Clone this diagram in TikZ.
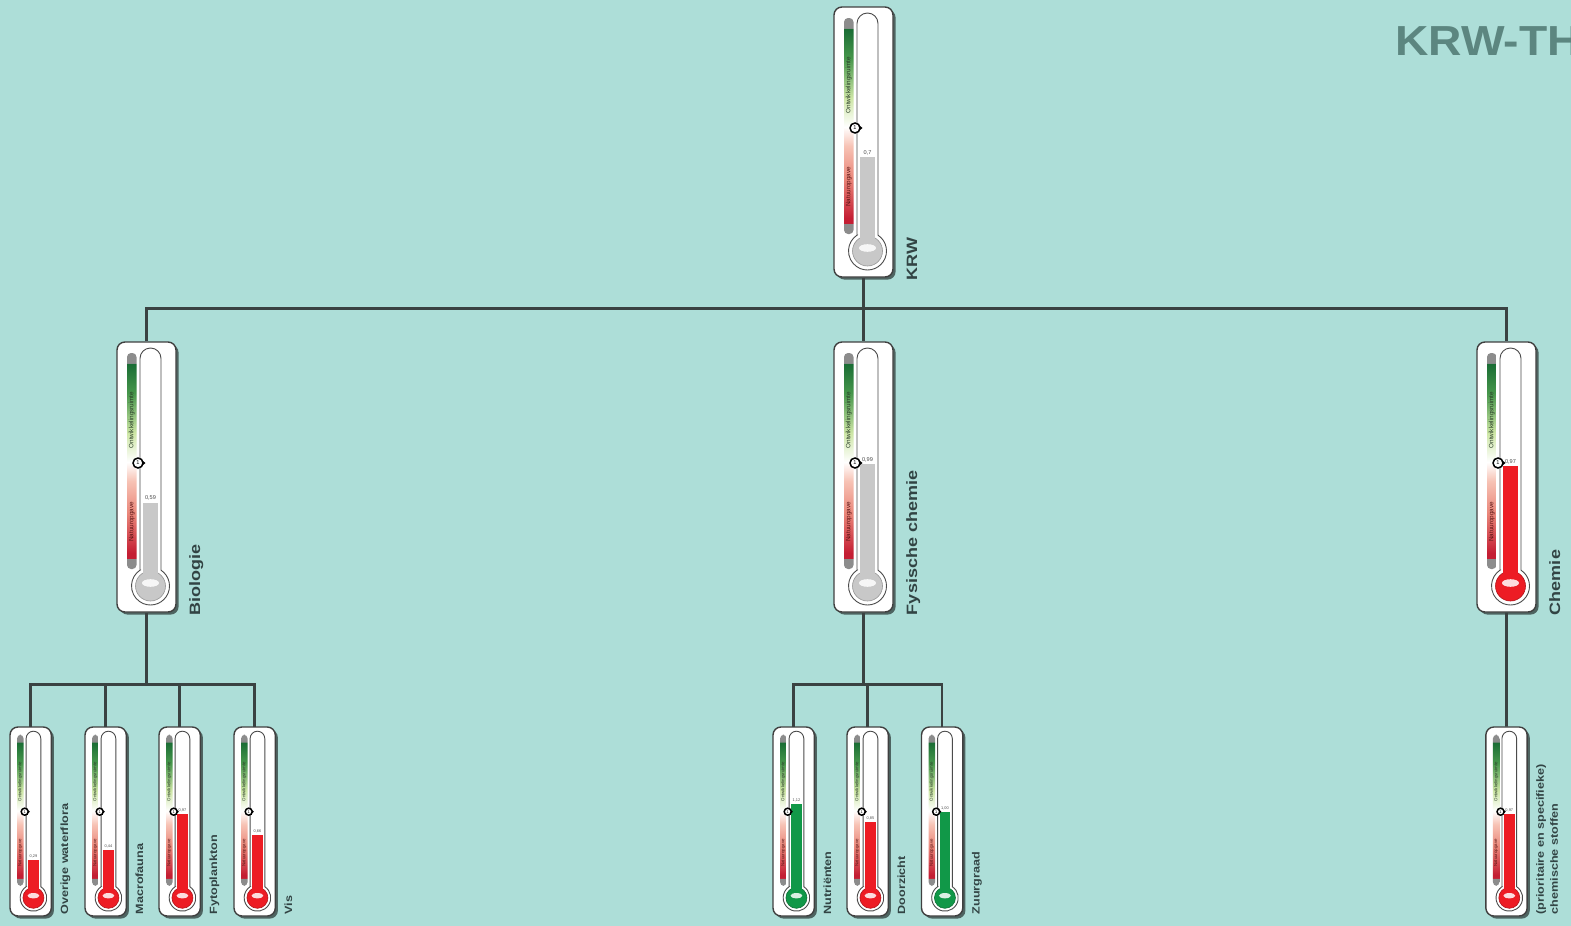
\documentclass[tikz,border=0pt]{standalone}
\usepackage{fontspec}
\setmainfont{Liberation Sans}
\newfontfamily\lblfont[FakeStretch=1.2]{Liberation Sans}
\newfontfamily\titlefont[FakeStretch=1.1]{Liberation Sans}
\usetikzlibrary{shadows}

\definecolor{bgteal}{RGB}{173,222,216}
\definecolor{linegray}{RGB}{58,66,66}
\definecolor{lblgray}{RGB}{50,68,68}
\definecolor{titlegray}{RGB}{92,134,128}
\definecolor{fluidgray}{RGB}{200,200,200}
\definecolor{fluidred}{RGB}{237,28,36}
\definecolor{fluidgreen}{RGB}{17,152,72}
\definecolor{capgray}{RGB}{140,140,140}
\definecolor{sgdark}{RGB}{25,108,52}
\definecolor{sgreen}{RGB}{70,150,75}
\definecolor{slight}{RGB}{205,230,165}
\definecolor{spink}{RGB}{247,195,181}
\definecolor{ssalmon}{RGB}{234,135,122}
\definecolor{sred}{RGB}{196,30,51}
\definecolor{sgtext}{RGB}{40,60,40}
\definecolor{srtext}{RGB}{90,20,20}

\pgfdeclareverticalshading{krwscale}{100bp}{color(0bp)=(capgray); color(27.43bp)=(capgray);
  color(27.55bp)=(sred); color(28.7bp)=(sred); color(37.96bp)=(ssalmon); color(45.37bp)=(spink);
  color(49.77bp)=(white); color(56.48bp)=(slight); color(65.74bp)=(sgreen); color(72.57bp)=(sgdark);
  color(72.69bp)=(capgray); color(100bp)=(capgray)}

\tikzset{
  card/.style={draw=black!75,fill=white,line width=.7pt,rounded corners=4pt,
    minimum width=29.5pt,minimum height=135pt,inner sep=0,
    drop shadow={shadow xshift=1.3pt,shadow yshift=-1.3pt,opacity=.55,fill=black}},
  tube/.style={draw=black!70,fill=white,line width=.45pt},
  scaletxt/.style={rotate=90,inner sep=0,font=\fontsize{3.15}{3.5}\selectfont},
  valtxt/.style={inner sep=0,text=black!70,font=\fontsize{2.8}{3}\selectfont},
  marktxt/.style={inner sep=0,font=\fontsize{2.8}{3}\selectfont},
  lbl/.style={rotate=90,anchor=base west,inner sep=0,text=lblgray,
    font=\lblfont\fontsize{7.5}{10}\selectfont\bfseries},
  link/.style={draw=linegray,line width=1.3pt}
}

% #1 name, #2 x, #3 y, #4 scale, #5 value, #6 fluid colour, #7 value text, #8 label
\newcommand{\thermo}[8]{%
  \begin{scope}[shift={(#2,-#3)},scale=#4,transform shape]
    \node[card] (#1) at (29.5,-135) {};
    \shade[shading=krwscale,rounded corners=2pt] (10,-11) rectangle (19.5,-227);
    \node[scaletxt,text=sgtext] (#1-up) at (14.75,-78) {Ontwikkelingsruimte};
    \node[scaletxt,text=srtext] (#1-down) at (14.75,-180) {Natuuropgave};
    \draw[tube] (23,-228.16) -- (23,-16.5) arc[start angle=180,end angle=0,radius=10.5]
      -- (44,-228.16) arc[start angle=56.46,end angle=-236.46,radius=19] -- cycle;
    \filldraw[fill=#6,draw=#6!75!black,line width=.3pt] (33.5,-244) circle (15);
    \fill[#6] (26,{-218+97*#5}) rectangle (41,-236);
    \fill[white,opacity=.85] (33.5,-241) ellipse (8.5 and 3.8);
    \node[valtxt] (#1-val) at (33.5,{-218+97*#5+4.5}) {#7};
    \fill[black] (24.5,-117.8) -- (28.5,-121) -- (24.5,-124.2) -- cycle;
    \draw[fill=white,line width=.75pt] (21,-121) circle (5);
    \node[marktxt] (#1-mark) at (21,-121) {1};
    \node[lbl] (#1-lbl) at (83,{-268-(#4-0.7)*18}) {#8};
  \end{scope}}

\begin{document}
\begin{tikzpicture}[x=0.5pt,y=0.5pt]
  \useasboundingbox (0,0) rectangle (1571,-926);
  \clip (0,0) rectangle (1571,-926);
  \fill[bgteal] (0,0) rectangle (1571,-926);

  \node[anchor=base west,inner sep=0,text=titlegray,font=\titlefont\fontsize{21}{24}\selectfont\bfseries]
    (title) at (1395,-55) {KRW-TH};

  % top
  \thermo{krw}{834}{7}{1}{0.7}{fluidgray}{0,7}{KRW}
  % middle row
  \thermo{bio}{117}{342}{1}{0.59}{fluidgray}{0,59}{Biologie}
  \thermo{fys}{834}{342}{1}{0.99}{fluidgray}{0,99}{Fysische chemie}
  \thermo{chem}{1477}{342}{1}{0.97}{fluidred}{0,97}{Chemie}
  % bottom row
  \thermo{flora}{10}{727}{0.7}{0.29}{fluidred}{0,29}{Overige waterflora}
  \thermo{fauna}{85}{727}{0.7}{0.44}{fluidred}{0,44}{Macrofauna}
  \thermo{fyto}{159}{727}{0.7}{0.97}{fluidred}{0,97}{Fytoplankton}
  \thermo{vis}{234}{727}{0.7}{0.66}{fluidred}{0,66}{Vis}
  \thermo{nutr}{773}{727}{0.7}{1.12}{fluidgreen}{1,12}{Nutriënten}
  \thermo{door}{847}{727}{0.7}{0.85}{fluidred}{0,85}{Doorzicht}
  \thermo{zuur}{921.5}{727}{0.7}{1.00}{fluidgreen}{1,00}{Zuurgraad}
  \thermo{stof}{1485.85}{727}{0.7}{0.97}{fluidred}{0,97}{\begin{tabular}[t]{@{}l@{}}(prioritaire en specifieke)\\chemische stoffen\end{tabular}}

  % connectors
  \draw[link] (krw.south) -- ++(0,-31) coordinate (tophub);
  \draw[link] (bio.north) |- (tophub) -| (chem.north);
  \draw[link] (tophub) -- (fys.north);
  \draw[link] (bio.south) -- ++(0,-72) coordinate (biohub);
  \draw[link] (flora.north) |- (biohub) -| (vis.north);
  \draw[link] (fauna.north) |- (biohub);
  \draw[link] (fyto.north) |- (biohub);
  \draw[link] (fys.south) -- ++(0,-72) coordinate (fyshub);
  \draw[link] (nutr.north) |- (fyshub) -| (zuur.north);
  \draw[link] (door.north) |- (fyshub);
  \draw[link] (chem.south) -- (stof.north);
\end{tikzpicture}
\end{document}
